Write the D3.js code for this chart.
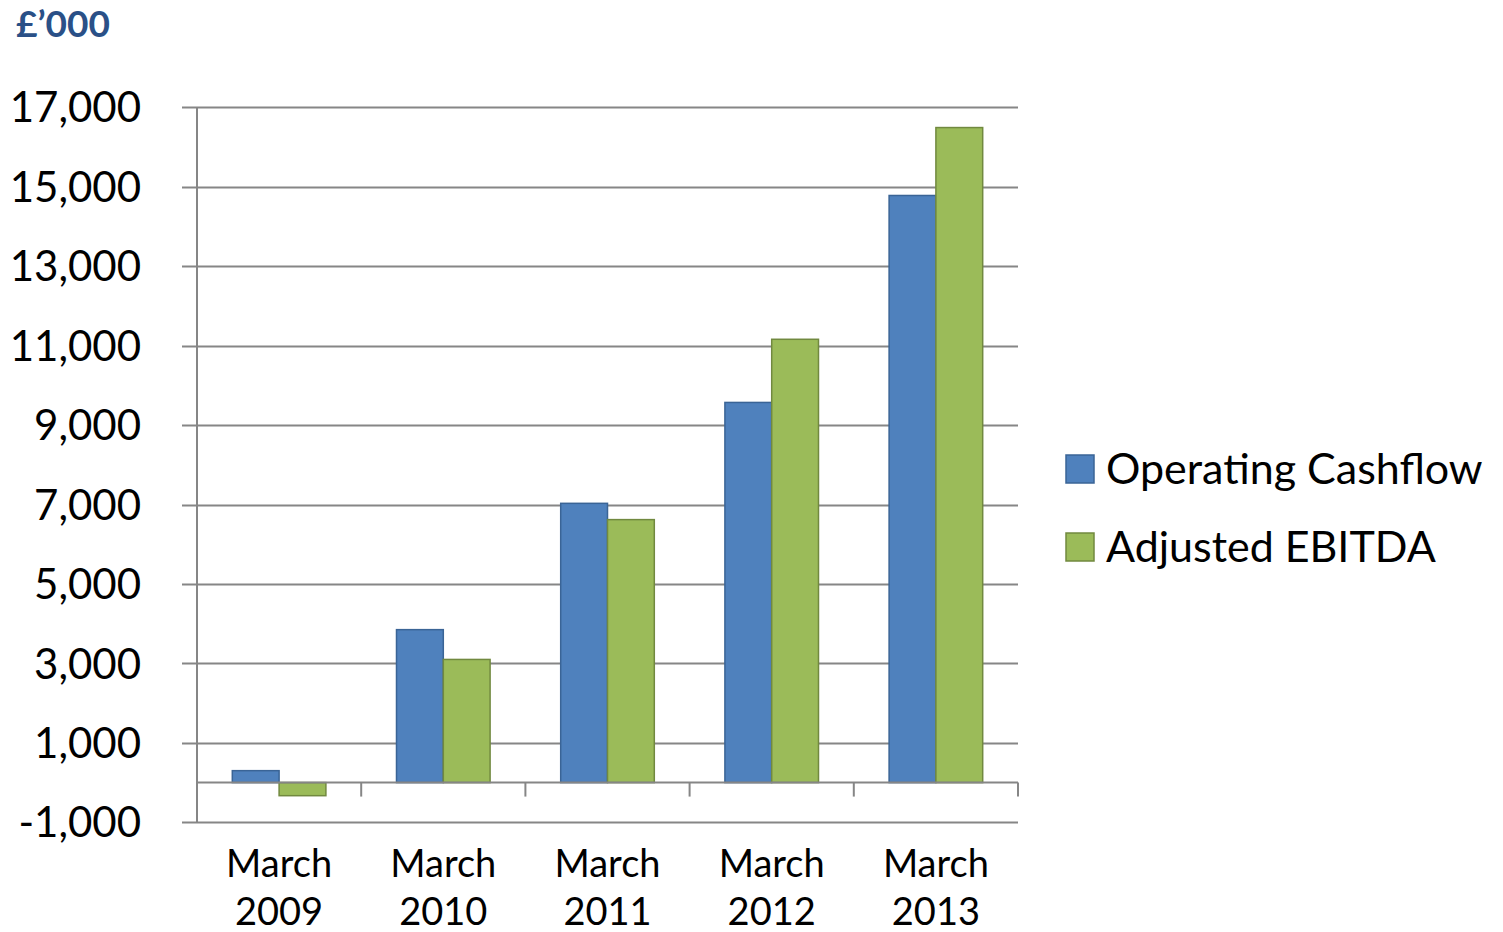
<!DOCTYPE html>
<html>
<head>
<meta charset="utf-8">
<script src="https://cdn.jsdelivr.net/npm/d3@7"></script>
<style>
  html, body { margin: 0; padding: 0; background: #fff; }
  svg text { font-family: Lato, "Open Sans", sans-serif; }
</style>
</head>
<body>
<svg id="chart" width="1503" height="932"></svg>
<script>
// Daten
const categories = ["March 2009", "March 2010", "March 2011", "March 2012", "March 2013"];
const seriesNames = ["Operating Cashflow", "Adjusted EBITDA"];
const operatingCashflow = [300, 3850, 7030, 9570, 14780];
const adjustedEbitda = [-330, 3100, 6620, 11160, 16490];
const yTicks = [-1000, 1000, 3000, 5000, 7000, 9000, 11000, 13000, 15000, 17000];

const colors = { "Operating Cashflow": "#4F81BD", "Adjusted EBITDA": "#9BBB59" };
const strokes = { "Operating Cashflow": "#3A6496", "Adjusted EBITDA": "#71893F" };

const svg = d3.select("#chart");

const plotLeft = 197, plotRight = 1018, plotTop = 107.3, plotBottom = 822.3;

const y = d3.scaleLinear().domain([-1000, 17000]).range([plotBottom, plotTop]);
const x0 = d3.scaleBand().domain(categories).range([plotLeft, plotRight])
    .paddingInner(0.43).paddingOuter(0.215);
const x1 = d3.scaleBand().domain(seriesNames).range([0, x0.bandwidth()]);

// Zahlenformat mit normalem Bindestrich statt Minuszeichen
const fmt = d => d3.format(",")(d).replace("−", "-");

const rows = categories.map((c, i) => ({
    category: c,
    values: [
        { name: seriesNames[0], value: operatingCashflow[i] },
        { name: seriesNames[1], value: adjustedEbitda[i] }
    ]
}));

// Gitterlinien
svg.append("g")
    .selectAll("line")
    .data(yTicks)
    .join("line")
    .attr("x1", plotLeft - 15)
    .attr("x2", plotRight)
    .attr("y1", d => Math.round(y(d)) + 0.5)
    .attr("y2", d => Math.round(y(d)) + 0.5)
    .attr("stroke", "#868686")
    .attr("stroke-width", 2);

// Y-Achsenbeschriftung
svg.append("g")
    .selectAll("text")
    .data(yTicks)
    .join("text")
    .attr("x", 141)
    .attr("y", d => y(d))
    .attr("dy", "0.36em")
    .attr("text-anchor", "end")
    .style("font-size", "42px")
    .attr("fill", "#000")
    .text(fmt);

// Balken
const groups = svg.append("g")
    .selectAll("g")
    .data(rows)
    .join("g")
    .attr("transform", d => `translate(${x0(d.category)},0)`);

groups.selectAll("rect")
    .data(d => d.values)
    .join("rect")
    .attr("x", d => x1(d.name))
    .attr("y", d => y(Math.max(0, d.value)))
    .attr("width", x1.bandwidth())
    .attr("height", d => Math.abs(y(d.value) - y(0)))
    .attr("fill", d => colors[d.name])
    .attr("stroke", d => strokes[d.name])
    .attr("stroke-width", 1.5);

// X-Achse (Nulllinie) und Teilstriche
svg.append("line")
    .attr("x1", plotLeft).attr("x2", plotRight)
    .attr("y1", y(0)).attr("y2", y(0))
    .attr("stroke", "#868686").attr("stroke-width", 2);

const boundaries = categories.map(c => x0(c) + x0.bandwidth() + x0.step() * 0.215);
svg.append("g")
    .selectAll("line")
    .data(boundaries)
    .join("line")
    .attr("x1", d => d).attr("x2", d => d)
    .attr("y1", y(0)).attr("y2", y(0) + 14)
    .attr("stroke", "#868686").attr("stroke-width", 2);

// Y-Achse
svg.append("line")
    .attr("x1", plotLeft).attr("x2", plotLeft)
    .attr("y1", plotTop).attr("y2", plotBottom)
    .attr("stroke", "#868686").attr("stroke-width", 2);

// Kategorienbeschriftung
const catLabels = svg.append("g")
    .selectAll("text")
    .data(categories)
    .join("text")
    .attr("x", d => x0(d) + x0.bandwidth() / 2)
    .attr("y", 877)
    .attr("text-anchor", "middle")
    .style("font-size", "38px")
    .attr("fill", "#000");

catLabels.selectAll("tspan")
    .data(d => d.split(" "))
    .join("tspan")
    .attr("x", function () { return d3.select(this.parentNode).attr("x"); })
    .attr("dy", (d, i) => i === 0 ? 0 : 48)
    .text(d => d);

// Einheit
svg.append("text")
    .attr("x", 16)
    .attr("y", 37)
    .style("font-size", "37px")
    .style("font-weight", "700")
    .attr("fill", "#2A5087")
    .text("£’000");

// Legende
const legend = svg.append("g")
    .selectAll("g")
    .data(seriesNames)
    .join("g")
    .attr("transform", (d, i) => `translate(1066, ${455 + i * 78})`);

legend.append("rect")
    .attr("width", 28)
    .attr("height", 28)
    .attr("fill", d => colors[d])
    .attr("stroke", d => strokes[d])
    .attr("stroke-width", 1.5);

legend.append("text")
    .attr("x", 40)
    .attr("y", 14)
    .attr("dy", "0.36em")
    .style("font-size", "43px")
    .attr("fill", "#000")
    .text(d => d);
</script>
</body>
</html>
